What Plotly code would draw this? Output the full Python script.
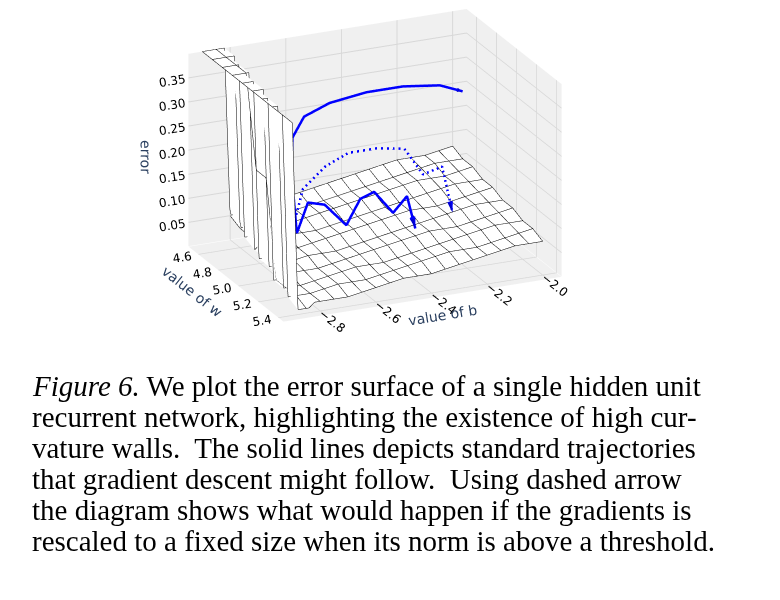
import plotly.graph_objects as go

# grid
b_vals = [-2.9, -2.88, -2.86, -2.84, -2.82, -2.8, -2.7, -2.6, -2.5, -2.4, -2.3, -2.2, -2.1, -2.0]
w_vals = [4.5, 4.6, 4.7, 4.8, 4.9, 5.0, 5.1, 5.2, 5.3, 5.4]
# error[w][b]
error = [
 [0.40, 0.40, 0.40, 0.40, 0.40, 0.05, 0.06, 0.07, 0.08, 0.09, 0.10, 0.11, 0.11, 0.12],
 [0.40, 0.40, 0.40, 0.40, 0.40, 0.04, 0.05, 0.06, 0.07, 0.08, 0.09, 0.10, 0.11, 0.11],
 [0.40, 0.40, 0.40, 0.40, 0.04, 0.04, 0.05, 0.06, 0.07, 0.08, 0.09, 0.10, 0.10, 0.11],
 [0.40, 0.40, 0.40, 0.40, 0.03, 0.04, 0.05, 0.05, 0.06, 0.07, 0.08, 0.09, 0.10, 0.10],
 [0.40, 0.40, 0.40, 0.03, 0.03, 0.03, 0.04, 0.05, 0.06, 0.07, 0.08, 0.08, 0.09, 0.10],
 [0.40, 0.40, 0.40, 0.03, 0.03, 0.03, 0.04, 0.04, 0.05, 0.06, 0.07, 0.08, 0.09, 0.09],
 [0.40, 0.40, 0.02, 0.02, 0.02, 0.03, 0.03, 0.04, 0.05, 0.06, 0.07, 0.07, 0.08, 0.09],
 [0.40, 0.40, 0.02, 0.02, 0.02, 0.02, 0.03, 0.04, 0.04, 0.05, 0.06, 0.07, 0.08, 0.08],
 [0.40, 0.02, 0.02, 0.02, 0.02, 0.02, 0.03, 0.03, 0.04, 0.05, 0.06, 0.06, 0.07, 0.08],
 [0.40, 0.01, 0.01, 0.01, 0.02, 0.02, 0.02, 0.03, 0.04, 0.04, 0.05, 0.06, 0.07, 0.07],
]

# trajectories (b, w, error)
solid1_b = [-2.74, -2.74, -2.72, -2.66, -2.55, -2.4, -2.25, -2.1, -2.0]
solid1_w = [5.0, 4.95, 4.9, 4.85, 4.8, 4.75, 4.7, 4.65, 4.6]
solid1_z = [0.09, 0.20, 0.27, 0.30, 0.31, 0.31, 0.30, 0.28, 0.25]
solid2_b = [-2.74, -2.7, -2.64, -2.58, -2.53, -2.48, -2.43, -2.38, -2.35]
solid2_w = [5.0, 5.0, 5.0, 5.05, 5.05, 5.05, 5.1, 5.1, 5.1]
solid2_z = [0.09, 0.15, 0.14, 0.10, 0.15, 0.16, 0.12, 0.15, 0.08]
dash_b = [-2.76, -2.7, -2.6, -2.5, -2.4, -2.3, -2.25, -2.2, -2.18]
dash_w = [5.0, 4.95, 4.9, 4.85, 4.85, 4.85, 4.9, 4.95, 5.0]
dash_z = [0.09, 0.17, 0.20, 0.21, 0.21, 0.20, 0.15, 0.17, 0.08]

b_ticks = [-2.8, -2.6, -2.4, -2.2, -2.0]
w_ticks = [4.6, 4.8, 5.0, 5.2, 5.4]
z_ticks = [0.05, 0.10, 0.15, 0.20, 0.25, 0.30, 0.35]

caption_lines = [
    "<i>Figure 6.</i> We plot the error surface of a single hidden unit",
    "recurrent network, highlighting the existence of high cur-",
    "vature walls.  The solid lines depicts standard trajectories",
    "that gradient descent might follow.  Using dashed arrow",
    "the diagram shows what would happen if the gradients is",
    "rescaled to a fixed size when its norm is above a threshold.",
]

fig = go.Figure()
fig.add_trace(go.Surface(
    x=b_vals, y=w_vals, z=error,
    colorscale=[[0, "white"], [1, "white"]], showscale=False,
    lighting=dict(ambient=1, diffuse=0, specular=0),
    contours=dict(x=dict(show=True, color="black", width=2, start=-2.9, end=-2.0, size=0.05),
                  y=dict(show=True, color="black", width=2, start=4.5, end=5.4, size=0.1)),
    hoverinfo="skip"))

for bx, wy, zz, dash in [(solid1_b, solid1_w, solid1_z, "solid"),
                         (solid2_b, solid2_w, solid2_z, "solid"),
                         (dash_b, dash_w, dash_z, "dash")]:
    fig.add_trace(go.Scatter3d(x=bx, y=wy, z=zz, mode="lines",
                               line=dict(color="blue", width=5, dash=dash), showlegend=False))
    fig.add_trace(go.Cone(x=[bx[-1]], y=[wy[-1]], z=[zz[-1]],
                          u=[bx[-1] - bx[-2]], v=[wy[-1] - wy[-2]], w=[zz[-1] - zz[-2]],
                          colorscale=[[0, "blue"], [1, "blue"]], showscale=False,
                          sizemode="absolute", sizeref=0.025, anchor="tip"))

ax = dict(showbackground=True, backgroundcolor="#f0f0f0", gridcolor="#d8d8d8",
          tickfont=dict(family="DejaVu Sans", size=12, color="black"),
          title_font=dict(family="DejaVu Sans", size=13, color="black"))
fig.update_layout(
    width=780, height=600, paper_bgcolor="white", margin=dict(l=0, r=0, t=0, b=0),
    font=dict(family="DejaVu Sans"),
    scene=dict(
        domain=dict(x=[0.02, 0.92], y=[0.45, 1.0]),
        xaxis=dict(ax, title="value of b", range=[-2.95, -1.95], tickvals=b_ticks,
                   ticktext=["−%.1f" % abs(v) for v in b_ticks]),
        yaxis=dict(ax, title="value of w", range=[5.45, 4.5], tickvals=w_ticks,
                   ticktext=["%.1f" % v for v in w_ticks]),
        zaxis=dict(ax, title="error", range=[0, 0.4], tickvals=z_ticks,
                   ticktext=["%.2f" % v for v in z_ticks]),
        camera=dict(eye=dict(x=-0.7, y=-1.55, z=0.6), center=dict(x=0, y=0, z=-0.05),
                    projection=dict(type="orthographic")),
        aspectmode="manual", aspectratio=dict(x=1.85, y=1.4, z=1.25)),
)

for i, line in enumerate(caption_lines):
    fig.add_annotation(text=line, x=22 / 780, y=1 - (360 + 31 * i) / 600,
                       xref="paper", yref="paper", showarrow=False,
                       xanchor="left", yanchor="top", align="left",
                       font=dict(family="Liberation Serif", size=29, color="black"))
fig.write_html("out.html")
